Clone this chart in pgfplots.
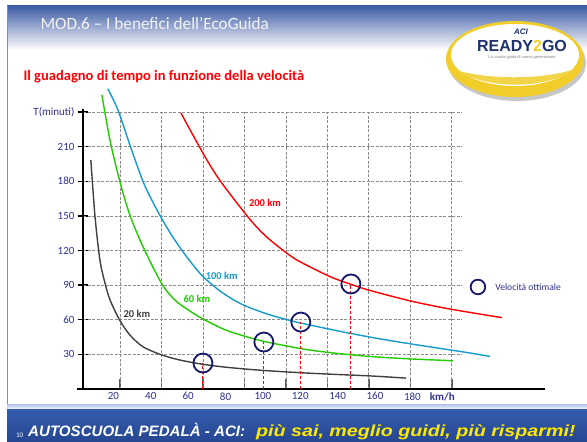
\documentclass[border=0pt]{standalone}
\usepackage{pgfplots}
\pgfplotsset{compat=1.18}
\usepackage{fontspec}
\setmainfont{Carlito}
\newfontfamily\footfont{Liberation Sans}
\definecolor{navy}{RGB}{46,49,146}
\definecolor{cnavy}{RGB}{22,24,110}
\definecolor{cgray}{RGB}{64,64,64}
\definecolor{cgreen}{RGB}{34,204,0}
\definecolor{cblue}{RGB}{22,155,208}
\definecolor{cred}{RGB}{255,0,0}
\definecolor{gridc}{RGB}{140,140,140}
\definecolor{titleblue}{RGB}{62,92,165}
\definecolor{footblue}{RGB}{52,92,172}
\definecolor{footdark}{RGB}{38,70,145}
\definecolor{yel}{RGB}{255,232,0}
\definecolor{logoyel}{RGB}{240,205,40}
\definecolor{logonavy}{RGB}{30,50,110}
\begin{document}
\begin{tikzpicture}[x=1pt,y=1pt]
\useasboundingbox (0,0) rectangle (587,442);
\fill[white] (0,0) rectangle (587,442);
% title band
\shade[top color=titleblue, bottom color=white] (7,392) rectangle (587,436);
\draw[color={rgb,255:red,120;green,140;blue,190}, line width=1pt] (7.5,32) -- (7.5,436);
\node[anchor=west, text=black!5, font=\fontsize{17.2}{19}\selectfont] at (37,418) {MOD.6 – I benefici dell’EcoGuida};
% logo
\fill[black!22] (517,379) ellipse [x radius=69, y radius=38];
\fill[logoyel] (515,383) ellipse [x radius=69, y radius=38];
\fill[white] (515,387) ellipse [x radius=64, y radius=31];
\fill[logoyel!85] (455,372) .. controls (490,352) and (545,352) .. (578,374) .. controls (545,362) and (490,362) .. (455,372) -- cycle;
\node[font=\footfont\bfseries\fontsize{16}{18}\selectfont, text=logonavy] at (522,396) {READY{\color{logoyel}2}GO};
\node[font=\footfont\fontsize{4}{5}\selectfont, text=gray] at (522,385) {La scuola guida di nuova generazione};
\node[font=\footfont\bfseries\itshape\fontsize{8}{9}\selectfont, text=logonavy] at (521,410) {ACI};
% subtitle
\node[anchor=west, text=cred, font=\bfseries\fontsize{14.5}{16}\selectfont] at (20,365) {Il guadagno di tempo in funzione della velocità};
% footer
\shade[top color={rgb,255:red,190;green,205;blue,235}, bottom color=white] (7,32) rectangle (587,37);
\shade[top color=footblue, bottom color=footdark] (7,0) rectangle (587,32);
\node[anchor=base west, text=white, font=\fontsize{7}{8}\selectfont, inner sep=0] at (16,4) {10};
\node[anchor=base west, text=white, font=\footfont\bfseries\itshape\fontsize{15.1}{17}\selectfont, inner sep=0] at (28,5.5) {AUTOSCUOLA PEDALÀ - ACI:};
\node[anchor=base west, text=yel, font=\footfont\bfseries\itshape\fontsize{16}{18}\selectfont, inner sep=0] at (256,5.5) {\scalebox{1.23}[1]{più sai, meglio guidi, più risparmi!}};

\begin{axis}[
  at={(83pt,53pt)}, anchor=south west, scale only axis,
  width=462pt, height=280pt,
  xmin=3.7, xmax=251, ymin=0, ymax=242.6,
  clip=false,
  axis line style={draw=none},
  tick pos=left,
  major tick length=10pt,
  xtick align=inside, ytick align=center,
  xtick={23.5,45.7,67.9,90.1,112.3,134.5,156.7,178.9,201.1},
  xticklabels={},
  extra x ticks={20,40,60,80,100,120,140,160,180,196},
  extra x tick labels={20,40,60,80,100,120,140,160,180,\textbf{km/h}},
  extra x tick style={major tick length=0pt},
  ytick={30,60,90,120,150,180,210,240},
  yticklabels={30,60,90,120,150,180,210,T(minuti)},
  xtick style={color=black!65, line width=1.5pt},
  ytick style={color=black, line width=1.3pt},
  tick label style={text=navy, font=\fontsize{11}{13}\selectfont},
  /pgf/number format/assume math mode=true,
]
% grid
\pgfplotsinvokeforeach{30,60,90,120,150,180,210,240}{
  \draw[gridc, dashed, dash pattern=on 3pt off 1.5pt, line width=0.7pt] (axis cs:3.7,#1) -- (axis cs:206.5,#1);
}
\pgfplotsinvokeforeach{23.5,45.7,67.9,90.1,112.3,134.5,156.7,178.9,201.1}{
  \draw[gridc, dashed, dash pattern=on 3pt off 1.5pt, line width=0.7pt] (axis cs:#1,0) -- (axis cs:#1,240);
}
% axis lines
\draw[black, line width=1.4pt] (axis cs:0.5,0) -- (axis cs:251,0);
\draw[black, line width=1.4pt] (axis cs:3.7,0) -- (axis cs:3.7,242.6);

% 20 km
\addplot[cgray, line width=1.4pt, smooth, no marks] coordinates {
 (7.9,198.4) (10.1,150) (12.7,112.3) (15.2,93.5) (18.1,77.5) (23.4,59.5) (28.8,46.8) (35.8,36.6) (45.9,29.5) (55.6,25.1) (67.9,21.4) (80.7,18.8) (98.4,16.3) (123.6,13.8) (158.9,11.2) (176.6,9.4)
};
% 60 km
\addplot[cgreen, line width=1.4pt, smooth, no marks] coordinates {
 (13.8,255) (18.1,215.9) (23.4,179.9) (28.8,150.7) (35.8,123.4) (45.9,91.1) (53,76.9) (59.5,69.1) (67.9,60.7) (80.7,50.7) (96,43.1) (105.4,39.6) (123.6,34.1) (141.2,30.6) (158.9,28) (177.1,26.2) (201.7,24.5)
};
% 100 km
\addplot[cblue, line width=1.4pt, smooth, no marks] coordinates {
 (17,260) (22.4,241.8) (28.8,211.4) (35.8,179.9) (41.1,161.9) (45.9,147.5) (51.8,131.6) (59.3,114.3) (67.9,97.5) (78.6,83.1) (89.3,73) (102.1,65.1) (112.8,60.1) (119.8,57.3) (141.2,50) (158.9,44.5) (177.1,39.6) (194.8,35.2) (210.8,31.2) (221.5,28.2)
};
% 200 km
\addplot[cred, line width=1.4pt, smooth, no marks] coordinates {
 (56.1,239.2) (67.9,204.4) (77,180.7) (93,147.1) (102.1,131.6) (112.8,117.7) (119.8,110.3) (135.9,97.4) (146.6,91) (157.3,85.4) (178.7,76.4) (200.1,69.3) (228,61.8)
};
% dashed drop lines
\addplot[ycomb, cred, dashed, dash pattern=on 3pt off 2pt, line width=1pt, no marks] coordinates {
 (67.9,22.5) (100.5,40.7) (120.3,58) (147.1,91)
};
% optimal speed circles
\addplot[only marks, mark=o, mark size=9.5pt, mark options={draw=cnavy, line width=1.8pt}] coordinates {
 (67.9,22.5) (100.5,40.7) (120.3,58) (147.1,91)
};
\addplot[only marks, mark=o, mark size=7.3pt, mark options={draw=cnavy, line width=1.8pt}] coordinates {(215.1,88.4)};
\node[anchor=west, text=navy, font=\fontsize{9.6}{11}\selectfont] at (axis cs:222.5,88.4) {Velocità ottimale};
% curve labels
\node[text=cred, font=\bfseries\fontsize{10.5}{12}\selectfont] at (axis cs:101.1,161.2) {200 km};
\node[text=cblue, font=\bfseries\fontsize{10.5}{12}\selectfont] at (axis cs:78,97.9) {100 km};
\node[text=cgreen, font=\bfseries\fontsize{10.5}{12}\selectfont] at (axis cs:64.7,78) {60 km};
\node[text=cgray, font=\bfseries\fontsize{10.5}{12}\selectfont] at (axis cs:32.5,65) {20 km};
\end{axis}
\end{tikzpicture}
\end{document}
